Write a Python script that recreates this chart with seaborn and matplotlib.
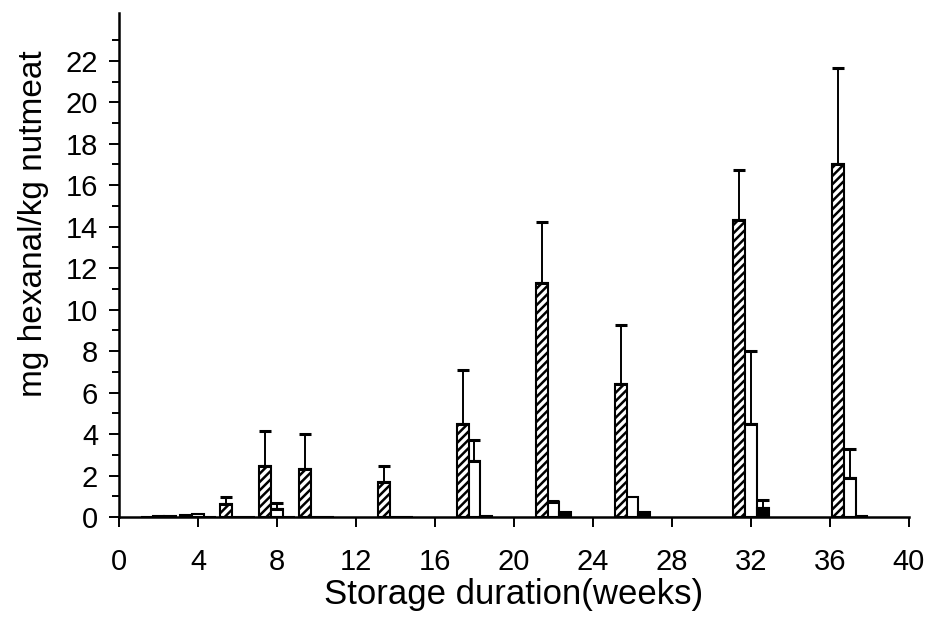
import matplotlib
matplotlib.use("Agg")
import matplotlib.pyplot as plt
import pandas as pd
import seaborn as sns

# sampling times (weeks) and the three storage treatments
weeks = [2, 4, 6, 8, 10, 14, 18, 22, 26, 32, 37]
series_names = ["Treatment A", "Treatment B", "Treatment C"]

hexanal_a = [0.0, 0.10, 0.65, 2.45, 2.30, 1.67, 4.50, 11.30, 6.43, 14.33, 17.03]
error_a = [0.0, 0.0, 0.33, 1.70, 1.70, 0.80, 2.60, 2.93, 2.83, 2.40, 4.62]

hexanal_b = [0.04, 0.15, 0.0, 0.37, 0.0, 0.0, 2.70, 0.72, 0.98, 4.47, 1.87]
error_b = [0.0, 0.0, 0.0, 0.29, 0.0, 0.0, 1.00, 0.05, 0.0, 3.53, 1.40]

hexanal_c = [0.04, 0.0, 0.0, 0.0, 0.0, 0.0, 0.05, 0.23, 0.25, 0.42, 0.05]
error_c = [0.0, 0.0, 0.0, 0.0, 0.0, 0.0, 0.0, 0.0, 0.0, 0.40, 0.0]

y_ticks = [0, 2, 4, 6, 8, 10, 12, 14, 16, 18, 20, 22]
x_ticks = [0, 4, 8, 12, 16, 20, 24, 28, 32, 36, 40]


def build_frame() -> pd.DataFrame:
    frames = []
    for name, values in zip(series_names, [hexanal_a, hexanal_b, hexanal_c]):
        frames.append(pd.DataFrame({"week": weeks, "hexanal": values, "series": name}))
    return pd.concat(frames, ignore_index=True)


def main() -> None:
    sns.set_style("ticks")
    plt.rcParams["font.family"] = ["Liberation Sans", "DejaVu Sans"]
    plt.rcParams["hatch.linewidth"] = 1.8
    plt.rcParams["text.color"] = "black"
    plt.rcParams["axes.labelcolor"] = "black"

    data = build_frame()
    palette = {"Treatment A": "white", "Treatment B": "white", "Treatment C": "black"}

    fig = plt.figure(figsize=(9.33, 6.26), dpi=100)
    ax = fig.add_axes([0.1275, 0.1741, 0.8467, 0.805])

    sns.barplot(
        data=data, x="week", y="hexanal", hue="series", hue_order=series_names,
        palette=palette, native_scale=True, width=0.9, saturation=1,
        errorbar=None, edgecolor="black", linewidth=1.5, legend=False, ax=ax,
    )

    hatches = ["////", "", ""]
    for container, hatch, errors in zip(ax.containers, hatches, [error_a, error_b, error_c]):
        xs, ys, es = [], [], []
        for patch, err in zip(container.patches, errors):
            patch.set_hatch(hatch)
            if err > 0:
                xs.append(patch.get_x() + patch.get_width() / 2)
                ys.append(patch.get_height())
                es.append(err)
        if xs:
            ax.errorbar(xs, ys, yerr=[[0] * len(es), es], fmt="none", ecolor="black",
                        elinewidth=1.4, capsize=4.3, capthick=2.2, zorder=1)

    ax.set_xlim(0, 40)
    ax.set_ylim(0, 24.3)
    ax.set_xticks(x_ticks)
    ax.set_yticks(y_ticks)
    ax.set_yticks([v + 1 for v in y_ticks], minor=True)

    ax.set_xlabel("Storage duration(weeks)", fontsize=25, labelpad=2)
    ax.set_ylabel("mg hexanal/kg nutmeat", fontsize=24)
    ax.yaxis.set_label_coords(-0.088, 0.582)
    ax.tick_params(axis="both", which="major", labelsize=21, length=7, width=1.4,
                   color="black", labelcolor="black")
    ax.tick_params(axis="x", pad=15)
    ax.tick_params(axis="y", pad=8)
    ax.tick_params(axis="y", which="minor", length=5, width=1.4, color="black")

    sns.despine(ax=ax)
    for side in ["left", "bottom"]:
        ax.spines[side].set_linewidth(1.8)
        ax.spines[side].set_color("black")

    fig.savefig("out.png", dpi=100)
    plt.close(fig)


if __name__ == "__main__":
    main()
